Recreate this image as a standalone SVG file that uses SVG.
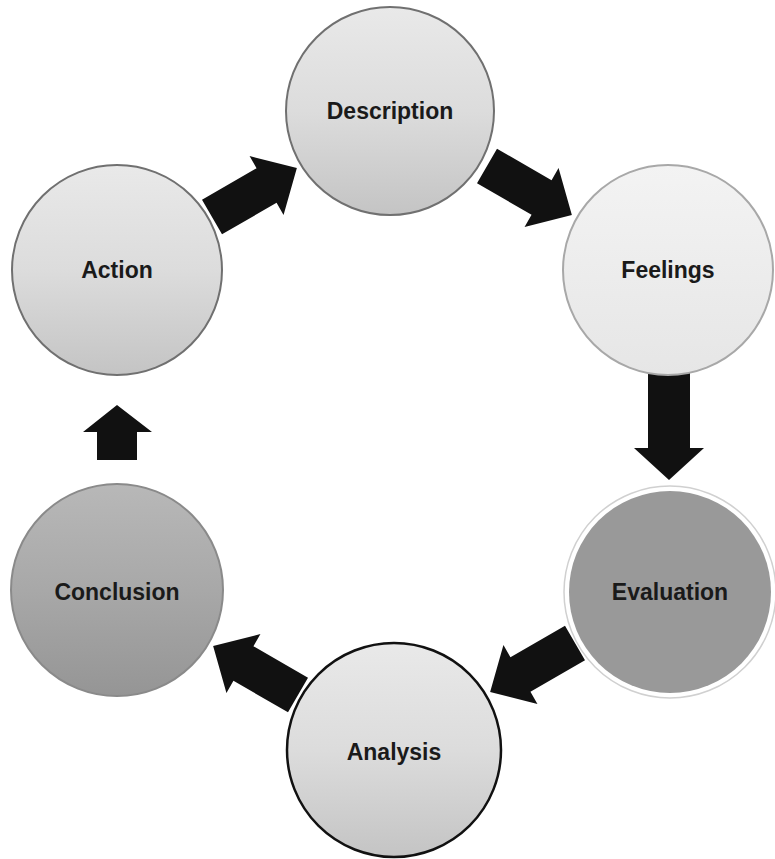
<svg xmlns="http://www.w3.org/2000/svg" width="775" height="859" viewBox="0 0 775 859">
<defs>
<linearGradient id="gLight" x1="0" y1="0" x2="0" y2="1">
<stop offset="0" stop-color="#e9e9e9"/>
<stop offset="0.5" stop-color="#dcdcdc"/>
<stop offset="1" stop-color="#c4c4c4"/>
</linearGradient>
<linearGradient id="gPale" x1="0" y1="0" x2="0" y2="1">
<stop offset="0" stop-color="#f3f3f3"/>
<stop offset="1" stop-color="#e6e6e6"/>
</linearGradient>
<linearGradient id="gDark" x1="0" y1="0" x2="0" y2="1">
<stop offset="0" stop-color="#b8b8b8"/>
<stop offset="0.5" stop-color="#a8a8a8"/>
<stop offset="1" stop-color="#959595"/>
</linearGradient>
<path id="arrowShape" d="M0,-20 L63,-20 L63,-34 L98,0 L63,34 L63,20 L0,20 Z"/>
</defs>
<style>
.lbl{font-family:"Liberation Sans",Arial,sans-serif;font-weight:bold;font-size:23px;fill:#1a1a1a;text-anchor:middle;dominant-baseline:central}
.arr{fill:#111111}
</style>
<g id="connectors">
<use href="#arrowShape" class="arr" transform="translate(212,217) rotate(-30)"/>
<use href="#arrowShape" class="arr" transform="translate(487,166) rotate(30)"/>
<path class="arr" d="M648,372 L690,372 L690,448 L704,448 L669,480 L634,448 L648,448 Z"/>
<use href="#arrowShape" class="arr" transform="translate(575,643) rotate(150)"/>
<use href="#arrowShape" class="arr" transform="translate(298,695) rotate(210)"/>
<path class="arr" d="M97,460 L137,460 L137,432 L152,432 L117,405 L83,432 L97,432 Z"/>
</g>
<g id="description">
<circle cx="390" cy="111" r="104" fill="url(#gLight)" stroke="#707070" stroke-width="2"/>
<text class="lbl" x="390" y="111">Description</text>
</g>
<g id="feelings">
<circle cx="668" cy="270" r="105" fill="url(#gPale)" stroke="#a8a8a8" stroke-width="2"/>
<text class="lbl" x="668" y="270">Feelings</text>
</g>
<g id="evaluation">
<circle cx="670" cy="592" r="106" fill="#ffffff" stroke="#d0d0d0" stroke-width="1.5"/>
<circle cx="670" cy="592" r="101" fill="#999999"/>
<text class="lbl" x="670" y="592">Evaluation</text>
</g>
<g id="analysis">
<circle cx="394" cy="750" r="107" fill="url(#gLight)" stroke="#111111" stroke-width="2.5"/>
<text class="lbl" x="394" y="752">Analysis</text>
</g>
<g id="conclusion">
<circle cx="117" cy="590" r="106" fill="url(#gDark)" stroke="#8a8a8a" stroke-width="2"/>
<text class="lbl" x="117" y="592">Conclusion</text>
</g>
<g id="action">
<circle cx="117" cy="270" r="105" fill="url(#gLight)" stroke="#707070" stroke-width="2"/>
<text class="lbl" x="117" y="270">Action</text>
</g>
</svg>
